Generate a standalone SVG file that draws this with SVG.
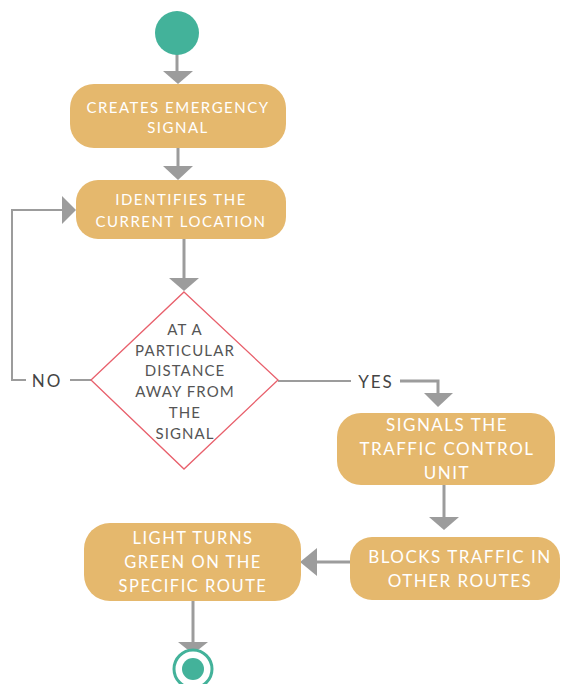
<svg xmlns="http://www.w3.org/2000/svg" width="563" height="684" viewBox="0 0 563 684">
<style>
.box{fill:#E5B86D;}
.bt{font-family:Lato,"Open Sans",sans-serif;fill:#FFFFFF;text-anchor:middle;letter-spacing:1.5px;}
.dt{font-family:Lato,"Open Sans",sans-serif;fill:#555555;text-anchor:middle;font-size:15px;letter-spacing:1.1px;}
.lbl{font-family:Lato,"Open Sans",sans-serif;fill:#444444;text-anchor:middle;font-size:17px;letter-spacing:2px;}
.ln{stroke:#9C9C9C;stroke-width:3;fill:none;}
.thin{stroke:#9C9C9C;stroke-width:2;fill:none;}
.ah{fill:#9C9C9C;}
</style>
<rect width="563" height="684" fill="#FFFFFF"/>
<g id="connectors">
<line class="ln" x1="177" y1="54" x2="177" y2="72"/>
<polygon class="ah" points="163,71 193,71 178,84"/>
<line class="ln" x1="178" y1="148" x2="178" y2="167"/>
<polygon class="ah" points="163,166 193,166 178,180"/>
<polyline class="thin" points="26,380 12,380 12,210 63,210"/>
<polygon class="ah" points="62,196 62,224 76,210"/>
<line class="ln" x1="184" y1="239" x2="184" y2="279"/>
<polygon class="ah" points="169,278 199,278 184,291"/>
<line class="thin" x1="70" y1="380" x2="92" y2="380"/>
<line class="thin" x1="278" y1="381" x2="351" y2="381"/>
<polyline class="ln" points="400,381 438,381 438,394"/>
<polygon class="ah" points="424,393 453,393 438,407"/>
<line class="ln" x1="444" y1="485" x2="444" y2="518"/>
<polygon class="ah" points="429,517 459,517 444,530"/>
<line class="ln" x1="350" y1="562" x2="316" y2="562"/>
<polygon class="ah" points="317,548 317,576 300,562"/>
<line class="ln" x1="193" y1="601" x2="193" y2="643"/>
<polygon class="ah" points="178,642 208,642 193,654"/>
<text class="lbl" x="47" y="387">NO</text>
<text class="lbl" x="376" y="388">YES</text>
</g>
<g id="start">
<circle cx="177" cy="33" r="22" fill="#43B29A"/>
</g>
<g id="n1">
<rect class="box" x="70" y="84" width="216" height="64" rx="24"/>
<text class="bt" font-size="15" x="178" y="113">CREATES EMERGENCY</text>
<text class="bt" font-size="15" x="178" y="133">SIGNAL</text>
</g>
<g id="n2">
<rect class="box" x="76" y="180" width="210" height="59" rx="22"/>
<text class="bt" font-size="15" x="181" y="205">IDENTIFIES THE</text>
<text class="bt" font-size="15" x="181" y="227">CURRENT LOCATION</text>
</g>
<g id="decision">
<polygon points="184,292 278,380 184,469 91,380" fill="#FFFFFF" stroke="#E8606C" stroke-width="1.3"/>
<text class="dt" x="185" y="335">AT A</text>
<text class="dt" x="185" y="356">PARTICULAR</text>
<text class="dt" x="185" y="376">DISTANCE</text>
<text class="dt" x="185" y="397">AWAY FROM</text>
<text class="dt" x="185" y="418">THE</text>
<text class="dt" x="185" y="439">SIGNAL</text>
</g>
<g id="n3">
<rect class="box" x="337" y="413" width="218" height="72" rx="24"/>
<text class="bt" font-size="17" x="447" y="431">SIGNALS THE</text>
<text class="bt" font-size="17" x="447" y="455">TRAFFIC CONTROL</text>
<text class="bt" font-size="17" x="447" y="479">UNIT</text>
</g>
<g id="n4">
<rect class="box" x="350" y="537" width="210" height="63" rx="22"/>
<text class="bt" font-size="17" x="460" y="563">BLOCKS TRAFFIC IN</text>
<text class="bt" font-size="17" x="460" y="587">OTHER ROUTES</text>
</g>
<g id="n5">
<rect class="box" x="84" y="523" width="217" height="78" rx="26"/>
<text class="bt" font-size="16.5" x="193" y="544">LIGHT TURNS</text>
<text class="bt" font-size="16.5" x="193" y="568">GREEN ON THE</text>
<text class="bt" font-size="16.5" x="193" y="592">SPECIFIC ROUTE</text>
</g>
<g id="end">
<circle cx="193" cy="669" r="19" fill="#FFFFFF" stroke="#43B29A" stroke-width="3"/>
<circle cx="193" cy="669" r="11" fill="#43B29A"/>
</g>
</svg>
